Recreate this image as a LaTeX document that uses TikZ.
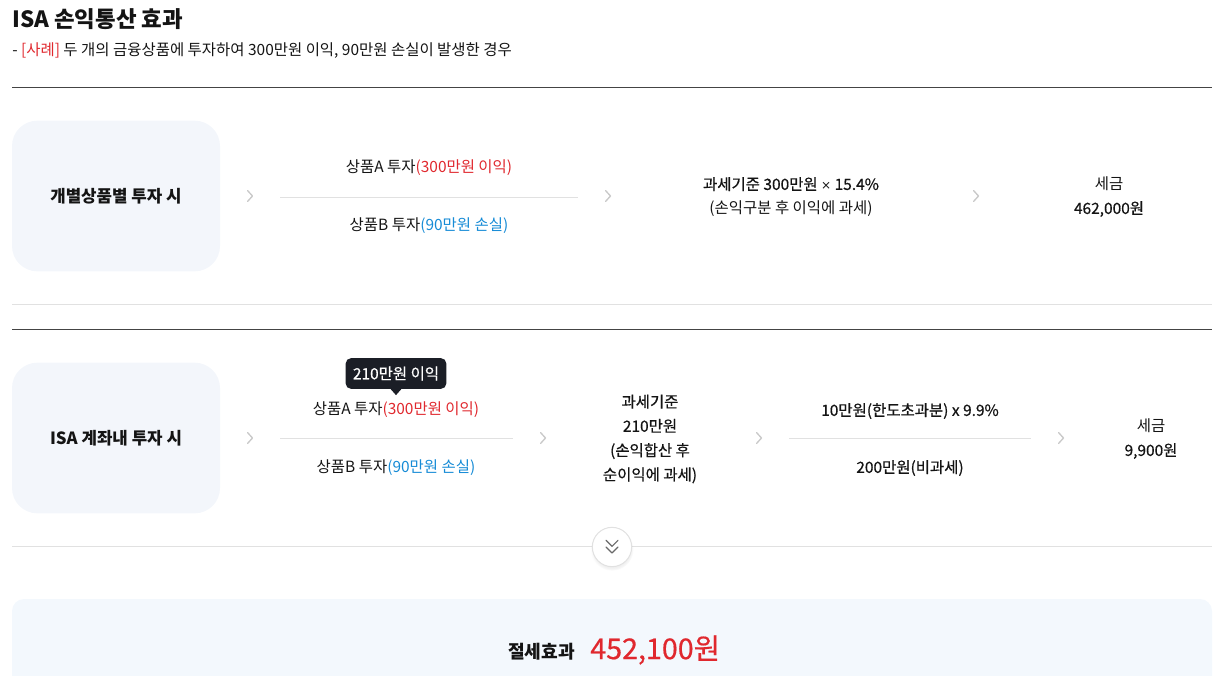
\documentclass[tikz,border=0pt]{standalone}
\usepackage{fontspec}
\setmainfont{Noto Sans CJK KR}
\newfontfamily\medfont{Noto Sans CJK KR}[FakeBold=0.6]
\newfontfamily\symfont{DejaVu Sans}
\usetikzlibrary{shadows}
\definecolor{ink}{HTML}{141414}
\definecolor{gainred}{HTML}{E0282E}
\definecolor{lossblue}{HTML}{168BD6}
\definecolor{boxfill}{HTML}{F3F6FB}
\definecolor{sumfill}{HTML}{F3F8FD}
\definecolor{rulelight}{HTML}{E1E1E1}
\definecolor{ruledark}{HTML}{444444}
\definecolor{chevgray}{HTML}{C9C9C9}
\definecolor{tipdark}{HTML}{1B1E26}

% a small right-pointing chevron between two steps, centred on (#1,#2)
\newcommand{\stepchevron}[2]{
	\draw[chevgray, line width=1pt, line cap=round, line join=round]
		(#1-2.5, #2-5.5) -- (#1+2.5, #2) -- (#1-2.5, #2+5.5);
}
\newcommand{\timesign}{{\symfont\fontsize{9}{10}\selectfont ×}}

\tikzset{
	txt/.style={inner sep=0pt, text=ink, yshift=-1.5pt, font=\fontsize{11.6}{14}\selectfont},
	casebox/.style={fill=boxfill, rounded corners=19pt, minimum width=156pt,
		minimum height=113pt, inner sep=0pt,
		font=\fontsize{12.6}{14}\bfseries\selectfont, text=ink},
	tipbox/.style={fill=tipdark, rounded corners=4pt, text=white, inner sep=0pt,
		minimum width=75.5pt, minimum height=23pt,
		font=\fontsize{11.6}{14}\medfont\selectfont},
}

\begin{document}
\begin{tikzpicture}[x=0.75pt, y=-0.75pt]
\useasboundingbox (0,0) rectangle (1223,675);

% heading
\node[txt, anchor=west, font=\fontsize{16.8}{20}\bfseries\selectfont] (title) at (12,17) {ISA 손익통산 효과};
\node[txt, anchor=west] (case) at (12,49) {- \textcolor{gainred}{[사례]} 두 개의 금융상품에 투자하여 300만원 이익, 90만원 손실이 발생한 경우};

% ---- row 1 : separate products ----
\draw[ruledark, line width=0.75pt] (12,87) -- (1212,87);
\node[casebox] (sepbox) at (116,196) {개별상품별 투자 시};
\stepchevron{250}{196}
\node[txt] (sepA) at (429,166) {상품A 투자\textcolor{gainred}{(300만원 이익)}};
\draw[rulelight, line width=0.75pt] (280,197) -- (578,197);
\node[txt] (sepB) at (429,224) {상품B 투자\textcolor{lossblue}{(90만원 손실)}};
\stepchevron{608}{196}
\node[txt, align=center, font=\fontsize{11.6}{18}\selectfont] (sepbase) at (791,195) {{\medfont 과세기준 300만원 \timesign\ 15.4\%}\\(손익구분 후 이익에 과세)};
\stepchevron{976}{196}
\node[txt, align=center, font=\fontsize{11.6}{18}\selectfont] (septax) at (1109,195) {세금\\{\medfont 462,000원}};
\draw[rulelight, line width=0.75pt] (12,304) -- (1212,304);

% ---- row 2 : inside the ISA account ----
\draw[ruledark, line width=0.75pt] (12,329) -- (1212,329);
\node[casebox] (isabox) at (116,438) {ISA 계좌내 투자 시};
\stepchevron{250}{438}
\node[tipbox] (tip) at (396,373.5) {210만원 이익};
\fill[tipdark] ([xshift=-4pt]tip.south) -- ([yshift=-4.5pt]tip.south) -- ([xshift=4pt]tip.south) -- cycle;
\node[txt] (isaA) at (396,408) {상품A 투자\textcolor{gainred}{(300만원 이익)}};
\draw[rulelight, line width=0.75pt] (280,438) -- (513,438);
\node[txt] (isaB) at (396,466) {상품B 투자\textcolor{lossblue}{(90만원 손실)}};
\stepchevron{543}{438}
\node[txt, align=center, font=\fontsize{11.6}{18.2}\medfont\selectfont] (isabase) at (650,437) {과세기준\\210만원\\(손익합산 후\\순이익에 과세)};
\stepchevron{759}{438}
\node[txt, font=\fontsize{11.6}{14}\medfont\selectfont] (over) at (910,409) {10만원(한도초과분) x 9.9\%};
\draw[rulelight, line width=0.75pt] (789,438) -- (1031,438);
\node[txt, font=\fontsize{11.6}{14}\medfont\selectfont] (free) at (910,466) {200만원(비과세)};
\stepchevron{1061}{438}
\node[txt, align=center, font=\fontsize{11.6}{18}\selectfont] (isatax) at (1151,437) {세금\\{\medfont 9,900원}};

% fold-out button on the lower rule
\draw[rulelight, line width=0.75pt] (12,546.5) -- (1212,546.5);
\node[circle, fill=white, draw=rulelight, line width=0.75pt, minimum size=29.5pt, inner sep=0pt,
	circular drop shadow={shadow xshift=0pt, shadow yshift=-1.5pt, opacity=0.12}] (more) at (612,547) {};
\draw[ruledark!80, line width=0.9pt, line cap=round, line join=round]
	([xshift=-4.5pt, yshift=5pt]more.center) -- ([yshift=0.5pt]more.center) -- ([xshift=4.5pt, yshift=5pt]more.center)
	([xshift=-4.5pt, yshift=0pt]more.center) -- ([yshift=-4.5pt]more.center) -- ([xshift=4.5pt, yshift=0pt]more.center);

% ---- result ----
\fill[sumfill, rounded corners=9pt] (12,599) rectangle (1212,700);
\node[txt, anchor=east, font=\fontsize{13.6}{16}\bfseries\selectfont] (save) at (575,650) {절세효과};
\node[txt, anchor=west, text=gainred, font=\fontsize{21.5}{24}\medfont\selectfont] (saveamt) at (590,648) {452,100원};
\end{tikzpicture}
\end{document}
